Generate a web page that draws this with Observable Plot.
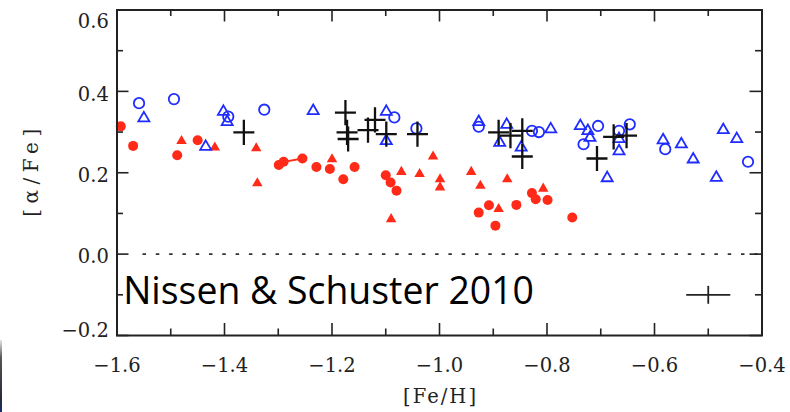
<!DOCTYPE html>
<html><head><meta charset="utf-8">
<script src="https://cdn.jsdelivr.net/npm/d3@7"></script>
<script src="https://cdn.jsdelivr.net/npm/@observablehq/plot@0.6"></script>
<style>
html,body{margin:0;padding:0;background:#fff;width:790px;height:412px;overflow:hidden;}
#chart{position:relative;width:790px;height:412px;}
#chart svg{display:block;}
#edge{position:absolute;left:0;top:340px;width:2px;height:72px;background:linear-gradient(#e6e6e6,#555 25%,#2a2a3a 80%,#14306a);}
</style></head><body><div id="chart"><div id="edge"></div></div>
<script>
// ---- data ----
const xMajorTicks = [-1.6, -1.4, -1.2, -1.0, -0.8, -0.6, -0.4];
const xMinorTicks = [-1.5, -1.3, -1.1, -0.9, -0.7, -0.5];
const yMajorTicks = [-0.2, 0.0, 0.2, 0.4, 0.6];
const yMinorTicks = [-0.1, 0.1, 0.3, 0.5];
const xLabel = "[Fe/H]";
const yLabel = "[α/Fe]";
const creditText = "Nissen & Schuster 2010";

// low-alpha halo stars, filled red circles [Fe/H, alpha/Fe]
const redCircles = [
  [-1.593, 0.314], [-1.570, 0.266], [-1.488, 0.243], [-1.450, 0.280],
  [-1.299, 0.219], [-1.290, 0.227], [-1.255, 0.235], [-1.229, 0.214],
  [-1.204, 0.209], [-1.179, 0.184], [-1.158, 0.214], [-1.100, 0.194],
  [-1.091, 0.176], [-1.080, 0.156], [-0.927, 0.102], [-0.908, 0.120],
  [-0.896, 0.070], [-0.857, 0.121], [-0.828, 0.150], [-0.821, 0.135],
  [-0.799, 0.133], [-0.753, 0.090]
];
// pair of low-alpha stars joined by a line
const redPair = [[-1.290, 0.227, -1.255, 0.235]];
// low-alpha, filled red triangles
const redTriangles = [
  [-1.480, 0.278], [-1.418, 0.262], [-1.341, 0.260], [-1.339, 0.174],
  [-1.200, 0.233], [-1.090, 0.086], [-1.071, 0.202], [-1.037, 0.197],
  [-1.012, 0.240], [-0.999, 0.184], [-0.999, 0.164], [-0.941, 0.202],
  [-0.924, 0.168], [-0.890, 0.111], [-0.874, 0.184], [-0.807, 0.161]
];
// high-alpha, open blue circles
const blueCircles = [
  [-1.559, 0.371], [-1.494, 0.381], [-1.393, 0.338], [-1.326, 0.355],
  [-1.084, 0.336], [-1.043, 0.309], [-0.927, 0.313], [-0.828, 0.303],
  [-0.815, 0.300], [-0.732, 0.270], [-0.705, 0.315], [-0.666, 0.303],
  [-0.646, 0.319], [-0.580, 0.258], [-0.426, 0.227]
];
// high-alpha, open blue triangles
const blueTriangles = [
  [-1.550, 0.334], [-1.435, 0.264], [-1.402, 0.350], [-1.395, 0.325],
  [-1.235, 0.352], [-1.099, 0.350], [-1.099, 0.278], [-0.927, 0.325],
  [-0.888, 0.274], [-0.875, 0.318], [-0.848, 0.262], [-0.793, 0.307],
  [-0.738, 0.315], [-0.724, 0.303], [-0.720, 0.286], [-0.688, 0.187],
  [-0.666, 0.283], [-0.666, 0.253], [-0.584, 0.280], [-0.550, 0.270],
  [-0.528, 0.233], [-0.485, 0.188], [-0.472, 0.305], [-0.447, 0.283]
];
// thick-disk stars, black plus signs
const blackPlus = [
  [-1.364, 0.299], [-1.175, 0.348], [-1.172, 0.299], [-1.170, 0.283],
  [-1.133, 0.305], [-1.120, 0.330], [-1.099, 0.295], [-1.041, 0.295],
  [-0.890, 0.299], [-0.868, 0.291], [-0.846, 0.303], [-0.846, 0.240],
  [-0.707, 0.235], [-0.676, 0.288], [-0.652, 0.291]
];
// typical error bar: [x, y, xerr, yerr]
const errorBar = [[-0.50, -0.10, 0.041, 0.022]];

// ---- styles ----
const RED = "#ff2a18";
const BLUE = "#1e2cff";
const INK = "#222";
const W = 790, H = 412;
const mL = 116.5, mR = 28.5, mT = 9.5, mB = 77;
const fw = W - mL - mR, fh = H - mT - mB;
const fmt = d => (Math.abs(d) < 1e-9 ? 0 : d).toFixed(1).replace("-", "\u2212");

const plusSymbol = {
  draw(ctx, size) {
    const r = Math.sqrt(size / Math.PI);
    ctx.moveTo(-1.5 * r, 0); ctx.lineTo(1.5 * r, 0);
    ctx.moveTo(0, -1.8 * r); ctx.lineTo(0, 1.8 * r);
  }
};

const tickStyle = {stroke: INK, strokeWidth: 1.6};
const axisFont = {fontFamily: "DejaVu Serif", fontSize: 19.5, fill: "#222"};

const chart = Plot.plot({
  width: W, height: H,
  marginLeft: mL, marginRight: mR, marginTop: mT, marginBottom: mB,
  style: {fontFamily: "DejaVu Serif", fontSize: "19.5px", background: "white"},
  x: {domain: [-1.6, -0.4]},
  y: {domain: [-0.2, 0.6]},
  marks: [
    Plot.ruleY([0], {stroke: "#333", strokeWidth: 1.6, strokeDasharray: "3.5,9.8", insetLeft: 26, insetRight: 4}),
    Plot.link(redPair, {x1: d => d[0], y1: d => d[1], x2: d => d[2], y2: d => d[3], stroke: RED, strokeWidth: 1.8}),
    Plot.dot(redCircles, {x: d => d[0], y: d => d[1], r: 5, fill: RED, stroke: "none"}),
    Plot.dot(redTriangles, {x: d => d[0], y: d => d[1], symbol: "triangle", r: 3.9, fill: RED, stroke: "none"}),
    Plot.dot(blueCircles, {x: d => d[0], y: d => d[1], r: 5.2, fill: "none", stroke: BLUE, strokeWidth: 1.8}),
    Plot.dot(blueTriangles, {x: d => d[0], y: d => d[1], symbol: "triangle", r: 4.1, fill: "none", stroke: BLUE, strokeWidth: 1.8}),
    Plot.dot(blackPlus, {x: d => d[0], y: d => d[1], symbol: plusSymbol, r: 7, fill: "none", stroke: "#111", strokeWidth: 2.3}),
    // error bar
    Plot.link(errorBar, {x1: d => d[0] - d[2], x2: d => d[0] + d[2], y1: d => d[1], y2: d => d[1], stroke: INK, strokeWidth: 1.8}),
    Plot.link(errorBar, {x1: d => d[0], x2: d => d[0], y1: d => d[1] - d[3], y2: d => d[1] + d[3], stroke: INK, strokeWidth: 1.8}),
    // inward ticks: bottom, top
    Plot.ruleX(xMajorTicks, {...tickStyle, insetTop: fh - 12}),
    Plot.ruleX(xMinorTicks, {...tickStyle, insetTop: fh - 6.5}),
    Plot.ruleX(xMajorTicks, {...tickStyle, insetBottom: fh - 12}),
    Plot.ruleX(xMinorTicks, {...tickStyle, insetBottom: fh - 6.5}),
    // inward ticks: left, right
    Plot.ruleY(yMajorTicks, {...tickStyle, insetRight: fw - 12}),
    Plot.ruleY(yMinorTicks, {...tickStyle, insetRight: fw - 6.5}),
    Plot.ruleY(yMajorTicks, {...tickStyle, insetLeft: fw - 12}),
    Plot.ruleY(yMinorTicks, {...tickStyle, insetLeft: fw - 6.5}),
    Plot.frame({stroke: INK, strokeWidth: 2}),
    // tick labels
    Plot.axisX(xMajorTicks, {anchor: "bottom", tickSize: 0, tickPadding: 23, tickFormat: fmt, label: null, ...axisFont}),
    Plot.axisY(yMajorTicks.filter(d => d > -0.1 && d < 0.5), {anchor: "left", tickSize: 0, tickPadding: 8.2, tickFormat: fmt, label: null, dy: 3, ...axisFont}),
    Plot.axisY(yMajorTicks.filter(d => d > 0.5), {anchor: "left", tickSize: 0, tickPadding: 8.2, tickFormat: fmt, label: null, dy: 12, ...axisFont}),
    Plot.axisY(yMajorTicks.filter(d => d < -0.1), {anchor: "left", tickSize: 0, tickPadding: 8.2, tickFormat: fmt, label: null, dy: -5, ...axisFont}),
    // axis titles
    Plot.text([xLabel], {frameAnchor: "bottom", textAnchor: "middle", dy: 61, lineAnchor: "middle", fontFamily: "DejaVu Serif", fontSize: 19.5, fill: "#222"}),
    Plot.text([yLabel], {frameAnchor: "left", textAnchor: "middle", dx: -85.5, rotate: -90, lineAnchor: "middle", fontFamily: "DejaVu Serif", fontSize: 20, fill: "#222"}),
    // credit
    Plot.text([creditText], {frameAnchor: "bottom-left", dx: 6.2, dy: -31.7, textAnchor: "start", lineAnchor: "bottom", fontFamily: "Open Sans", fontSize: 37.4, fill: "#000"})
  ]
});

chart.querySelectorAll("text").forEach(t => {
  if (t.textContent === yLabel) { t.setAttribute("textLength", "88"); t.setAttribute("lengthAdjust", "spacing"); }
  if (t.textContent === xLabel) { t.setAttribute("textLength", "73"); t.setAttribute("lengthAdjust", "spacing"); }
});
document.getElementById("chart").prepend(chart);
</script>
</body></html>
